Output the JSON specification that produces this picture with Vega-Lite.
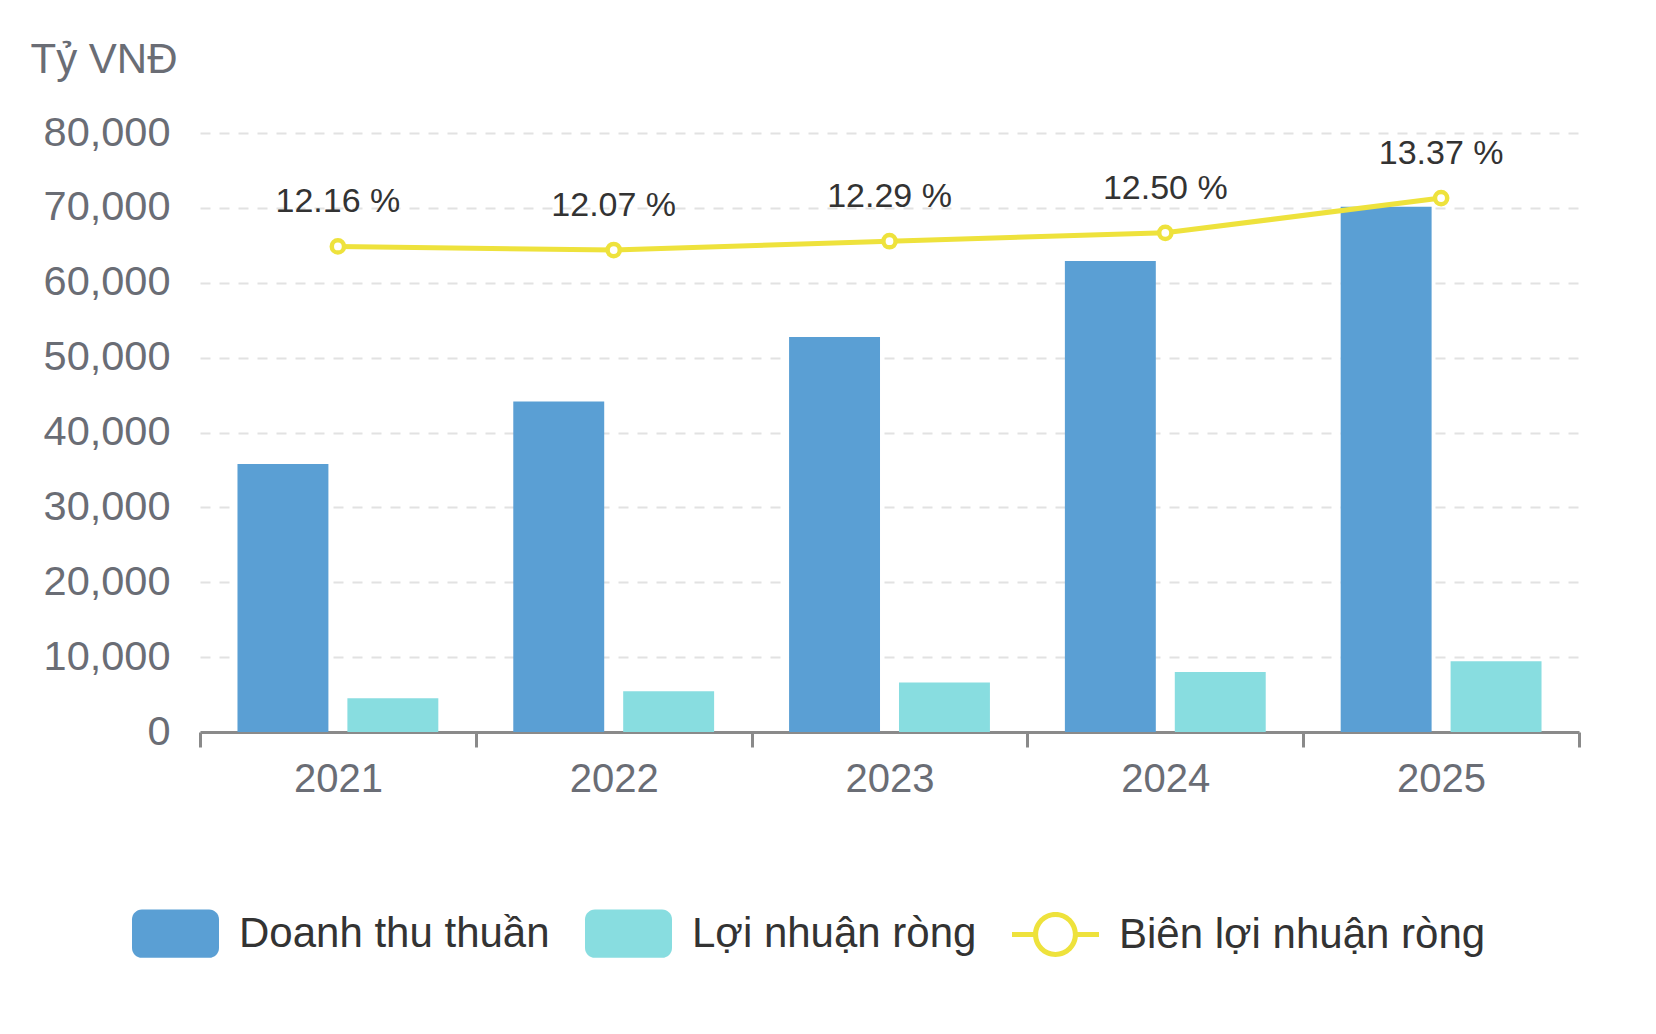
{
  "$schema": "https://vega.github.io/schema/vega-lite/v6.json",
  "autosize": {"type": "none"},
  "padding": {"left": 200, "top": 133, "right": 77, "bottom": 302},
  "width": 1379,
  "height": 599,
  "background": "white",
  "datasets": {
    "bars": [
      {"year": "2021", "series": "Doanh thu thuần", "value": 35800},
      {"year": "2021", "series": "Lợi nhuận ròng", "value": 4500},
      {"year": "2022", "series": "Doanh thu thuần", "value": 44150},
      {"year": "2022", "series": "Lợi nhuận ròng", "value": 5450},
      {"year": "2023", "series": "Doanh thu thuần", "value": 52750},
      {"year": "2023", "series": "Lợi nhuận ròng", "value": 6600},
      {"year": "2024", "series": "Doanh thu thuần", "value": 62900},
      {"year": "2024", "series": "Lợi nhuận ròng", "value": 8000},
      {"year": "2025", "series": "Doanh thu thuần", "value": 70150},
      {"year": "2025", "series": "Lợi nhuận ròng", "value": 9450}
    ],
    "margin": [
      {"year": "2021", "margin": 12.16},
      {"year": "2022", "margin": 12.07},
      {"year": "2023", "margin": 12.29},
      {"year": "2024", "margin": 12.5},
      {"year": "2025", "margin": 13.37}
    ]
  },
  "layer": [
    {
      "data": {"name": "bars"},
      "mark": {"type": "bar"},
      "encoding": {
        "x": {
          "field": "year",
          "type": "nominal",
          "scale": {"type": "band", "paddingInner": 0, "paddingOuter": 0},
          "axis": {
            "title": null,
            "labelAngle": 0,
            "tickBand": "extent",
            "labelFontSize": 40,
            "labelColor": "#6a6d75",
            "labelPadding": 12,
            "domainColor": "#8a8a8a",
            "domainWidth": 3,
            "tickColor": "#8a8a8a",
            "tickWidth": 3,
            "tickSize": 15,
            "grid": false
          }
        },
        "xOffset": {
          "field": "series",
          "type": "nominal",
          "scale": {"domain": ["Doanh thu thuần", "Lợi nhuận ròng"], "paddingInner": 0.1727, "paddingOuter": 0.341}
        },
        "y": {
          "field": "value",
          "type": "quantitative",
          "scale": {"domain": [0, 80000], "nice": false},
          "axis": {
            "title": "Tỷ VNĐ",
            "titleAngle": 0,
            "titleAlign": "left",
            "titleBaseline": "alphabetic",
            "titleX": -170,
            "titleY": -61,
            "titleFontSize": 42,
            "titleFontWeight": "normal",
            "titleColor": "#6a6d75",
            "values": [0, 10000, 20000, 30000, 40000, 50000, 60000, 70000, 80000],
            "format": ",.0f",
            "labelFontSize": 41.5,
            "labelColor": "#6a6d75",
            "labelPadding": 30,
            "domain": false,
            "ticks": false,
            "grid": true,
            "gridColor": "#e2e2e2",
            "gridWidth": 2,
            "gridDash": [10, 9]
          }
        },
        "color": {
          "field": "series",
          "type": "nominal",
          "scale": {
            "domain": ["Doanh thu thuần", "Lợi nhuận ròng", "Biên lợi nhuận ròng"],
            "range": ["#5a9fd4", "#88dde0", "#eee23c"]
          },
          "legend": {
            "title": null,
            "orient": "none",
            "direction": "horizontal",
            "legendX": -68,
            "legendY": 757,
            "padding": 0,
            "symbolSize": 7569,
            "symbolStrokeWidth": 0,
            "labelFontSize": 42,
            "labelColor": "#333333",
            "labelLimit": 800,
            "labelOffset": 20,
            "columnPadding": 35,
            "encode": {
              "symbols": {
                "update": {
                  "shape": [
                    {"test": "datum.value === 'Biên lợi nhuận ròng'", "value": "M 0.517 0 A 0.517 0.517 0 1 1 -0.517 0 A 0.517 0.517 0 1 1 0.517 0 Z M 0.4 0 A 0.4 0.4 0 1 0 -0.4 0 A 0.4 0.4 0 1 0 0.4 0 Z M -1 -0.057 H -0.46 V 0.057 H -1 Z M 0.46 -0.057 H 1 V 0.057 H 0.46 Z"},
                    {"value": "M -0.773 -0.557 H 0.773 A 0.227 0.227 0 0 1 1 -0.33 V 0.33 A 0.227 0.227 0 0 1 0.773 0.557 H -0.773 A 0.227 0.227 0 0 1 -1 0.33 V -0.33 A 0.227 0.227 0 0 1 -0.773 -0.557 Z"}
                  ],
                  "stroke": {"value": "transparent"},
                  "opacity": {"value": 1}
                }
              }
            }
          }
        }
      }
    },
    {
      "data": {"name": "margin"},
      "transform": [
        {"calculate": "format(datum.margin, '.2f') + ' %'", "as": "label"}
      ],
      "encoding": {
        "x": {"field": "year", "type": "nominal", "scale": {"type": "band", "paddingInner": 0, "paddingOuter": 0}},
        "y": {"field": "margin", "type": "quantitative", "scale": {"domain": [0, 15], "nice": false}, "axis": null}
      },
      "layer": [
        {
          "mark": {"type": "line", "strokeWidth": 5},
          "encoding": {"color": {"datum": "Biên lợi nhuận ròng", "type": "nominal"}}
        },
        {
          "mark": {"type": "point", "filled": true, "fill": "white", "stroke": "#eee23c", "strokeWidth": 4.5, "size": 150, "opacity": 1}
        },
        {
          "mark": {"type": "text", "fontSize": 34, "color": "#333333", "baseline": "alphabetic", "dy": -34},
          "encoding": {"text": {"field": "label"}}
        }
      ]
    }
  ],
  "resolve": {"scale": {"y": "independent"}},
  "config": {
    "font": "Liberation Sans",
    "view": {"stroke": null}
  }
}
